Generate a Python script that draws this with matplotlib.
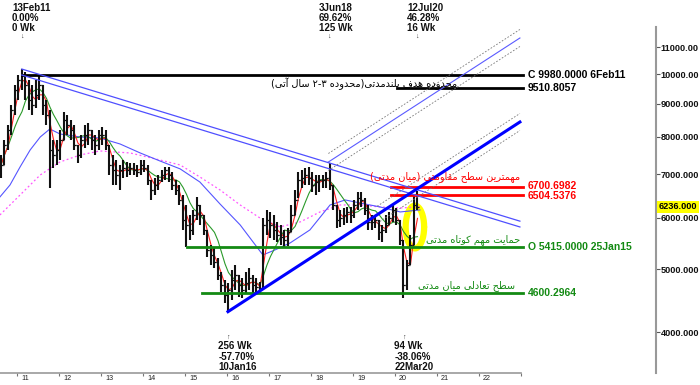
import re
import numpy as np
import pandas as pd
import matplotlib
matplotlib.use('Agg')
import matplotlib.pyplot as plt
import matplotlib.transforms as mtransforms
from matplotlib import font_manager
from matplotlib.ft2font import FT2Font

plt.rcParams['font.family'] = ['Liberation Sans', 'DejaVu Sans']

# ---------------- data (monthly bars, Aug 2010 .. Jul 2020) ----------------
first_month = '2010-08'
high = [7500, 7910, 8340, 8960, 9620, 9970, 10180, 10070, 9790, 9620, 9790, 9970,
        9620, 9120, 8800, 7910, 7910, 8200, 8740, 8650, 8490, 8340, 7770, 8050,
        8340, 8400, 8200, 8050, 8200, 8290, 8200, 7770, 7500, 7370, 7240, 7370,
        7320, 7290, 7290, 7240, 7370, 7370, 7240, 6860, 6910, 6990, 7110, 7190,
        7190, 7060, 6860, 6740, 6510, 6280, 6060, 6170, 6460, 6280, 6060, 5750,
        5450, 5390, 5200, 4950, 4810, 4760, 4990, 5080, 4900, 4850, 4950, 5020,
        4900, 4850, 4780, 6000, 6170, 6130, 6060, 5910, 5850, 5750, 5790, 6280,
        6630, 7060, 7110, 7160, 7190, 7060, 6990, 6990, 6990, 7060, 7300, 6740,
        6280, 6170, 6220, 6240, 6240, 6390, 6580, 6580, 6440, 6280, 6060, 6060,
        5960, 5850, 6060, 6130, 6280, 6220, 5960, 5550, 5170, 5650, 6510, 6610]
low = [6910, 7240, 7640, 8050, 8650, 9120, 9450, 9120, 8800, 8650, 8860, 9120,
       8650, 8340, 6670, 7160, 7240, 7370, 7910, 8050, 7910, 7640, 7290, 7420,
       7690, 7770, 7640, 7500, 7640, 7770, 7640, 6990, 6740, 6740, 6630, 6910,
       6940, 6990, 6990, 6940, 6990, 7060, 6740, 6390, 6510, 6630, 6820, 6860,
       6820, 6630, 6510, 6280, 5750, 5415, 5550, 5650, 5960, 5850, 5650, 5220,
       5080, 5020, 4810, 4610, 4440, 4300, 4480, 4650, 4530, 4520, 4600, 4650,
       4560, 4600, 4600, 4650, 5650, 5590, 5550, 5510, 5450, 5410, 5430, 5710,
       6060, 6440, 6670, 6740, 6740, 6580, 6510, 6580, 6670, 6670, 6630, 6170,
       5790, 5810, 5850, 5890, 5890, 6000, 6170, 6240, 6060, 5750, 5750, 5790,
       5550, 5510, 5690, 5850, 5910, 5850, 5450, 4520, 4650, 5080, 5450, 6170]
close = [7240, 7770, 8200, 8800, 9450, 9790, 9980, 9620, 9120, 8960, 9280, 9620,
         8960, 8650, 7640, 7500, 7640, 7910, 8490, 8340, 8200, 7770, 7500, 7910,
         8050, 8200, 7910, 7770, 8050, 8050, 7770, 7240, 7110, 6990, 7110, 7160,
         7110, 7160, 7110, 7060, 7240, 7160, 6860, 6630, 6740, 6860, 6990, 7110,
         6990, 6740, 6630, 6390, 5960, 5850, 5750, 6060, 6280, 6060, 5750, 5350,
         5260, 5130, 4900, 4730, 4560, 4650, 4810, 4900, 4730, 4650, 4760, 4850,
         4730, 4700, 4680, 5850, 5960, 5850, 5750, 5650, 5610, 5550, 5710, 6060,
         6390, 6860, 6910, 6990, 6910, 6740, 6820, 6860, 6860, 6910, 6740, 6280,
         5960, 6000, 6060, 6130, 6060, 6280, 6440, 6390, 6170, 5910, 5910, 5960,
         5710, 5750, 5850, 6000, 6170, 5960, 5550, 4730, 5080, 5450, 6280, 6236]

# long moving averages (decimal year, value)
blue_ma_dates = [2010.60, 2010.84, 2011.08, 2011.32, 2011.56, 2011.79, 2012.03, 2012.51,
                 2012.98, 2013.46, 2013.94, 2014.41, 2014.89, 2015.36, 2015.84, 2016.32,
                 2016.86, 2017.15, 2017.51, 2017.98, 2018.46, 2018.82, 2019.17, 2019.65,
                 2020.13, 2020.60]
blue_ma_vals = [6462, 6743, 7189, 7636, 7996, 8227, 8082, 7996, 7968, 7800, 7555, 7343,
                7140, 6815, 6303, 5851, 5260, 5354, 5489, 5748, 6281, 6394, 6326, 6237,
                6127, 6171]
mag_ma_dates = [2010.60, 2011.08, 2011.56, 2012.03, 2012.51, 2012.98, 2013.70, 2014.41,
                2014.89, 2015.36, 2015.84, 2016.32, 2016.79, 2017.27, 2017.75, 2018.22,
                2018.70, 2019.17, 2019.65, 2020.13, 2020.60]
mag_ma_vals = [6062, 6508, 6987, 7317, 7501, 7609, 7555, 7369, 7240, 6938, 6625, 6281,
               5998, 5810, 5914, 6127, 6281, 6281, 6237, 6215, 6237]

# horizontal levels
level_black = [9980.0, 9510.8057]
level_red = [6700.6982, 6504.5376]
level_green = [5415.0, 4600.2964]
last_price = 6236.0

# trend lines (decimal year, value)
desc_upper = ([2011.12, 2022.98], [10179, 5930])
desc_lower = ([2011.12, 2022.98], [9965, 5809])
support_line = ([2016.03, 2022.98], [4300, 8433])
upper_channel = ([2018.42, 2022.98], [7316, 11365])

y_ticks = [4000, 5000, 6000, 7000, 8000, 9000, 10000, 11000]
y_tick_labels = ['4000.000', '5000.000', '6000.000', '7000.000', '8000.000', '9000.000',
                 '10000.00', '11000.00']
last_price_label = '6236.000'
x_years = list(range(2011, 2024))
x_year_labels = ['11', '12', '13', '14', '15', '16', '17', '18', '19', '20', '21', '22']

swings_top = [(2011.12, ['13Feb11', '0.00%', '0 Wk']),
              (2018.42, ['3Jun18', '69.62%', '125 Wk']),
              (2020.53, ['12Jul20', '46.28%', '16 Wk'])]
swings_bottom = [(2016.03, ['256 Wk', '-57.70%', '10Jan16']),
                 (2020.22, ['94 Wk', '-38.06%', '22Mar20'])]

txt_target = 'محدوده هدف بلندمدتی(محدوده ۲-۳ سال آتی)'
txt_resist = 'مهمترین سطح مقاومتی (میان مدتی)'
txt_support = 'حمایت مهم کوتاه مدتی'
txt_balance = 'سطح تعادلی میان مدتی'

# ---------------- simple Persian shaping ----------------
_dv = FT2Font(font_manager.findfont('DejaVu Sans'))
def _has(ch):
    return _dv.get_char_index(ord(ch)) != 0

FORMS = {
    'ا': ('\uFE8D', '\uFE8E', None, None),
    'آ': ('\uFE81', '\uFE82', None, None),
    'ب': ('\uFE8F', '\uFE90', '\uFE91', '\uFE92'),
    'ت': ('\uFE95', '\uFE96', '\uFE97', '\uFE98'),
    'ح': ('\uFEA1', '\uFEA2', '\uFEA3', '\uFEA4'),
    'د': ('\uFEA9', '\uFEAA', None, None),
    'ر': ('\uFEAD', '\uFEAE', None, None),
    'س': ('\uFEB1', '\uFEB2', '\uFEB3', '\uFEB4'),
    'ط': ('\uFEC1', '\uFEC2', '\uFEC3', '\uFEC4'),
    'ع': ('\uFEC9', '\uFECA', '\uFECB', '\uFECC'),
    'ف': ('\uFED1', '\uFED2', '\uFED3', '\uFED4'),
    'ق': ('\uFED5', '\uFED6', '\uFED7', '\uFED8'),
    'ک': ('\uFB8E', '\uFB8F', '\uFB90', '\uFB91'),
    'ل': ('\uFEDD', '\uFEDE', '\uFEDF', '\uFEE0'),
    'م': ('\uFEE1', '\uFEE2', '\uFEE3', '\uFEE4'),
    'ن': ('\uFEE5', '\uFEE6', '\uFEE7', '\uFEE8'),
    'ه': ('\uFEE9', '\uFEEA', '\uFEEB', '\uFEEC'),
    'و': ('\uFEED', '\uFEEE', None, None),
    'ی': ('\uFBFC', '\uFBFD', '\uFBFE', '\uFBFF'),
}
if not all(_has(c) for c in FORMS['ک']):
    FORMS['ک'] = ('\uFED9', '\uFEDA', '\uFEDB', '\uFEDC')
if not all(_has(c) for c in FORMS['ی']):
    FORMS['ی'] = ('\uFEEF', '\uFEF0', '\uFEF3', '\uFEF4')
DIGITS = {'۲': '۲', '۳': '۳'}
if not _has('۲'):
    DIGITS = {'۲': '٢', '۳': '٣'} if _has('٢') else {'۲': '2', '۳': '3'}

def fa(s):
    out = []
    n = len(s)
    for i, ch in enumerate(s):
        if ch in DIGITS:
            out.append(DIGITS[ch]); continue
        if ch not in FORMS:
            out.append(ch); continue
        f = FORMS[ch]
        prev = s[i - 1] if i > 0 else None
        nxt = s[i + 1] if i < n - 1 else None
        jp = prev in FORMS and FORMS[prev][2] is not None
        jn = f[2] is not None and nxt in FORMS
        if jp and jn:
            g = f[3]
        elif jp:
            g = f[1]
        elif jn:
            g = f[2]
        else:
            g = f[0]
        out.append(g)
    vis = ''.join(out)[::-1]
    vis = vis.translate(str.maketrans('()', ')('))
    vis = re.sub(r'[0-9\u0660-\u0669\u06F0-\u06F9][0-9\u0660-\u0669\u06F0-\u06F9\-]*[0-9\u0660-\u0669\u06F0-\u06F9]',
                 lambda m: m.group(0)[::-1], vis)
    return vis

# ---------------- figure ----------------
W, H = 700, 385
fig = plt.figure(figsize=(W / 100, H / 100), dpi=100)
ax_left, ax_right, ax_top, ax_bot = 0, 656, 27, 372.7
ax = fig.add_axes([ax_left / W, 1 - ax_bot / H, (ax_right - ax_left) / W, (ax_bot - ax_top) / H])
ax.set_yscale('log')
ax.set_ylim(3462, 11817)
ax.set_xlim(2010.602, 2026.22)

months = pd.period_range(first_month, periods=len(close), freq='M')
t = np.array(months.year + (months.month - 0.5) / 12.0)
c = pd.Series(close, dtype=float)
o = c.shift(1).fillna(c.iloc[0]).values

# yellow highlight
cx, cy = 2020.48, 5808
tt = np.linspace(0, 2 * np.pi, 200)
ax.plot(cx + 0.22 * np.cos(tt), cy * np.exp(-0.076 * np.sin(tt)), color='#ffff00', lw=4.5, zorder=1,
        solid_capstyle='round')

# moving averages
red_ma = c.rolling(3, min_periods=1).mean()
green_ma = c.rolling(7, min_periods=1).mean()
ax.plot(mag_ma_dates, mag_ma_vals, color='#ff55ff', lw=0.9, ls=(0, (1.5, 2)), zorder=2)
ax.plot(blue_ma_dates, blue_ma_vals, color='#5555ff', lw=0.8, zorder=2)
ax.plot(t, green_ma, color='#2a9a2a', lw=0.8, zorder=2)
ax.plot(t, red_ma, color='#ff2020', lw=0.8, zorder=2)

# price bars
ax.vlines(t, low, high, color='#111111', lw=1.5, zorder=3)
ax.hlines(o, t - 0.04, t, color='#111111', lw=0.9, zorder=3)
ax.hlines(close, t, t + 0.04, color='#111111', lw=0.9, zorder=3)

# horizontal levels
x_end = 2023.06
ax.plot([2011.12, x_end], [level_black[0]] * 2, color='black', lw=2, zorder=4)
ax.plot([2020.06, x_end], [level_black[1]] * 2, color='black', lw=2, zorder=4)
ax.plot([2019.90, x_end], [level_red[0]] * 2, color='#ff0000', lw=2, zorder=4)
ax.plot([2019.90, x_end], [level_red[1]] * 2, color='#ff0000', lw=2, zorder=4)
ax.plot([2015.06, x_end], [level_green[0]] * 2, color='#138a13', lw=2, zorder=4)
ax.plot([2015.42, x_end], [level_green[1]] * 2, color='#138a13', lw=2, zorder=4)

# trend lines
ax.plot(*desc_upper, color='#4f4fff', lw=0.9, zorder=4)
ax.plot(*desc_lower, color='#4f4fff', lw=0.9, zorder=4)
ax.plot(*support_line, color='#0000ff', lw=2.2, zorder=5)
ax.plot(*upper_channel, color='#5a5aff', lw=0.8, zorder=4)
off = 1.0307
for fac in (off, 1 / off):
    ax.plot(upper_channel[0], [v * fac for v in upper_channel[1]], color='#777777', lw=0.6,
            ls=(0, (2, 2)), zorder=4)
    sd = [2019.58, support_line[0][1]]
    s0 = np.exp(np.interp(sd[0], support_line[0], np.log(support_line[1])))
    ax.plot(sd, [s0 * fac, support_line[1][1] * fac], color='#777777', lw=0.6,
            ls=(0, (2, 2)), zorder=4)

# level labels
lx = 2023.17
lab_kw = dict(fontsize=7.5, fontweight='bold', va='center', ha='left')
ax.text(lx, level_black[0], 'C 9980.0000 6Feb11', color='black', **lab_kw)
ax.text(lx, level_black[1], '9510.8057', color='black', **lab_kw)
ax.text(lx, level_red[0] * 1.004, '6700.6982', color='#ff0000', **lab_kw)
ax.text(lx, level_red[1] * 0.996, '6504.5376', color='#ff0000', **lab_kw)
ax.text(lx, level_green[0], 'O 5415.0000 25Jan15', color='#138a13', **lab_kw)
ax.text(lx, level_green[1], '4600.2964', color='#138a13', **lab_kw)

# Persian comments
fa_kw = dict(family='DejaVu Sans', ha='right', va='center', fontsize=7)
ax.text(2021.48, 9650, fa(txt_target), color='black', zorder=6, **fa_kw)
ax.text(2022.99, 6938, fa(txt_resist), color='#ff0000', zorder=6, **fa_kw)
ax.text(2022.99, 5548, fa(txt_support), color='#138a13', zorder=6, **fa_kw)
ax.text(2022.87, 4712, fa(txt_balance), color='#138a13', zorder=6, **fa_kw)

# swing annotations
trf = mtransforms.blended_transform_factory(ax.transData, fig.transFigure)
ann_kw = dict(fontsize=7, fontweight='bold', color='#111111', ha='left', va='center',
              transform=trf, clip_on=False)
for d, lines in swings_top:
    for i, s in enumerate(lines):
        ax.text(d - 0.23, 1 - (8 + 10 * i) / H, s, **ann_kw)
    ax.text(d, 1 - 36 / H, '↓', fontsize=5, ha='center', va='center', transform=trf,
            color='#333333', clip_on=False)
for d, lines in swings_bottom:
    ax.text(d, 1 - 337 / H, '↑', fontsize=5, ha='center', va='center', transform=trf,
            color='#333333', clip_on=False)
    for i, s in enumerate(lines):
        ax.text(d - 0.23, 1 - (346 + 10.5 * i) / H, s, **ann_kw)

# axes styling
for s in ('top', 'left'):
    ax.spines[s].set_visible(False)
ax.spines['right'].set_color('#999999')
ax.spines['right'].set_linewidth(1.5)
ax.spines['bottom'].set_color('#999999')
ax.spines['bottom'].set_linewidth(1.2)
ax.spines['bottom'].set_bounds(2010.602, 2023.0)

ax.yaxis.tick_right()
ax.set_yticks(y_ticks)
ax.set_yticklabels(y_tick_labels)
ax.yaxis.set_minor_locator(matplotlib.ticker.NullLocator())
ax.tick_params(axis='y', which='major', direction='out', length=3, width=0.8, color='#555555',
               pad=0.5, labelsize=6.6, labelcolor='#111111')
for lbl in ax.get_yticklabels():
    lbl.set_fontweight('bold')

ax.set_xticks(x_years)
ax.set_xticklabels([''] * len(x_years))
ax.tick_params(axis='x', direction='out', length=2.5, width=0.8, color='#777777')
trx = mtransforms.blended_transform_factory(ax.transData, ax.transAxes)
for yr, lab in zip(x_years, x_year_labels):
    ax.text(yr + 0.1, -0.018, lab, transform=trx, fontsize=5.2, ha='left', va='center',
            color='#222222', clip_on=False)

# last price box
trp = mtransforms.blended_transform_factory(ax.transAxes, ax.transData)
ax.text(1.004, last_price, last_price_label, transform=trp, fontsize=6.6, fontweight='bold',
        ha='left', va='center', color='black', clip_on=False, zorder=10,
        bbox=dict(boxstyle='square,pad=0.2', fc='#ffff00', ec='none'))

fig.savefig('out.png', dpi=100)
